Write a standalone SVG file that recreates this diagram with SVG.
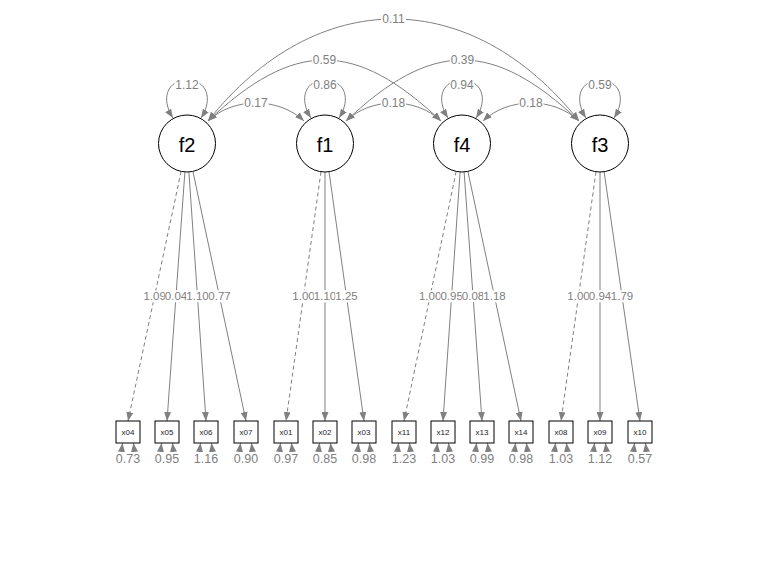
<svg xmlns="http://www.w3.org/2000/svg" width="768" height="576" viewBox="0 0 768 576">
<defs>
<style>
.e{fill:none;stroke:#808080;stroke-width:1}
.d{stroke-dasharray:4,3}
.a{marker-end:url(#ah)}
.b{marker-start:url(#ah);marker-end:url(#ah)}
.lb{fill:#ffffff;stroke:none}
.lt{font-family:"Liberation Sans",Arial,sans-serif;fill:#808080;text-anchor:middle}
.t12{font-size:12px}
.t11{font-size:11.5px}
.t13{font-size:12.5px}
.lat circle{fill:#ffffff;stroke:#000000;stroke-width:1}
.lat text{font-family:"Liberation Sans",Arial,sans-serif;font-size:20px;fill:#000000;text-anchor:middle}
.man rect{fill:#ffffff;stroke:#000000;stroke-width:1}
.man text{font-family:"Liberation Sans",Arial,sans-serif;font-size:8px;fill:#1a1a2a;text-anchor:middle}
</style>
<marker id="ah" viewBox="0 0 9 7" refX="9" refY="3.5" markerWidth="9" markerHeight="7" markerUnits="userSpaceOnUse" orient="auto-start-reverse">
<path d="M0,0 L9,3.5 L0,7 z" fill="#808080"/>
</marker>
</defs>
<rect width="768" height="576" fill="#ffffff"/>

<g id="connectors">
<!-- loadings -->
<line class="e d a" x1="181.1" y1="171.4" x2="128" y2="421"/>
<line class="e a" x1="184.9" y1="171.9" x2="167" y2="421"/>
<line class="e a" x1="188.9" y1="171.9" x2="206" y2="421"/>
<line class="e a" x1="192.9" y1="171.4" x2="246" y2="421"/>
<line class="e d a" x1="321" y1="171.7" x2="286" y2="421"/>
<line class="e a" x1="325" y1="172" x2="325" y2="421"/>
<line class="e a" x1="329" y1="171.7" x2="364" y2="421"/>
<line class="e d a" x1="456.2" y1="171.4" x2="404" y2="421"/>
<line class="e a" x1="460.1" y1="171.9" x2="443" y2="421"/>
<line class="e a" x1="464.1" y1="171.9" x2="482" y2="421"/>
<line class="e a" x1="467.9" y1="171.4" x2="521" y2="421"/>
<line class="e d a" x1="596" y1="171.7" x2="561" y2="421"/>
<line class="e a" x1="600" y1="172" x2="600" y2="421"/>
<line class="e a" x1="604.1" y1="171.7" x2="640" y2="421"/>

<!-- covariances -->
<path class="e b" d="M208,121 C316,-15 471,-15 579,121"/>
<path class="e b" d="M208,121 C294,39.7 355,39.7 441,121"/>
<path class="e b" d="M346,121 C432,39.7 493,39.7 579,121"/>
<path class="e b" d="M208,121 C233,97 279,97 304,121"/>
<path class="e b" d="M346,121 C371,97 416,97 441,121"/>
<path class="e b" d="M483,121 C508,97 554,97 579,121"/>

<!-- latent variances -->
<path class="e b" d="M173,118 C160,98 168,80 187,80 C206,80 214,98 201,118"/>
<path class="e b" d="M311,118 C298,98 306,80 325,80 C344,80 352,98 339,118"/>
<path class="e b" d="M448,118 C435,98 443,80 462,80 C481,80 489,98 476,118"/>
<path class="e b" d="M586,118 C573,98 581,80 600,80 C619,80 627,98 614,118"/>

<!-- residual variances -->
<path class="e b" d="M122.5,443 C120,466 136,466 133.5,443"/>
<path class="e b" d="M161.5,443 C159,466 175,466 172.5,443"/>
<path class="e b" d="M200.5,443 C198,466 214,466 211.5,443"/>
<path class="e b" d="M240.5,443 C238,466 254,466 251.5,443"/>
<path class="e b" d="M280.5,443 C278,466 294,466 291.5,443"/>
<path class="e b" d="M319.5,443 C317,466 333,466 330.5,443"/>
<path class="e b" d="M358.5,443 C356,466 372,466 369.5,443"/>
<path class="e b" d="M398.5,443 C396,466 412,466 409.5,443"/>
<path class="e b" d="M437.5,443 C435,466 451,466 448.5,443"/>
<path class="e b" d="M476.5,443 C474,466 490,466 487.5,443"/>
<path class="e b" d="M515.5,443 C513,466 529,466 526.5,443"/>
<path class="e b" d="M555.5,443 C553,466 569,466 566.5,443"/>
<path class="e b" d="M594.5,443 C592,466 608,466 605.5,443"/>
<path class="e b" d="M634.5,443 C632,466 648,466 645.5,443"/>

<!-- labels: covariances -->
<rect class="lb" x="381" y="13" width="25" height="12"/><text class="lt t12" x="393.5" y="23.2">0.11</text>
<rect class="lb" x="312" y="54" width="25" height="12"/><text class="lt t12" x="324.5" y="64.2">0.59</text>
<rect class="lb" x="450" y="54" width="25" height="12"/><text class="lt t12" x="462.5" y="64.2">0.39</text>
<rect class="lb" x="243.5" y="97" width="25" height="12"/><text class="lt t12" x="256" y="107.2">0.17</text>
<rect class="lb" x="381" y="97" width="25" height="12"/><text class="lt t12" x="393.5" y="107.2">0.18</text>
<rect class="lb" x="518.5" y="97" width="25" height="12"/><text class="lt t12" x="531" y="107.2">0.18</text>
<!-- labels: latent variances -->
<rect class="lb" x="174.5" y="79" width="25" height="12"/><text class="lt t12" x="187" y="89.2">1.12</text>
<rect class="lb" x="312.5" y="79" width="25" height="12"/><text class="lt t12" x="325" y="89.2">0.86</text>
<rect class="lb" x="449.5" y="79" width="25" height="12"/><text class="lt t12" x="462" y="89.2">0.94</text>
<rect class="lb" x="587.5" y="79" width="25" height="12"/><text class="lt t12" x="600" y="89.2">0.59</text>
<!-- labels: loadings -->
<rect class="lb" x="143.4" y="290.3" width="22.4" height="12"/><text class="lt t11" x="154.6" y="300.4">1.09</text>
<rect class="lb" x="164.8" y="290.3" width="22.4" height="12"/><text class="lt t11" x="176" y="300.4">0.04</text>
<rect class="lb" x="186.3" y="290.3" width="22.4" height="12"/><text class="lt t11" x="197.5" y="300.4">1.10</text>
<rect class="lb" x="208.3" y="290.3" width="22.4" height="12"/><text class="lt t11" x="219.5" y="300.4">0.77</text>
<rect class="lb" x="292.3" y="290.3" width="22.4" height="12"/><text class="lt t11" x="303.5" y="300.4">1.00</text>
<rect class="lb" x="313.8" y="290.3" width="22.4" height="12"/><text class="lt t11" x="325" y="300.4">1.10</text>
<rect class="lb" x="335.3" y="290.3" width="22.4" height="12"/><text class="lt t11" x="346.5" y="300.4">1.25</text>
<rect class="lb" x="418.9" y="290.3" width="22.4" height="12"/><text class="lt t11" x="430.1" y="300.4">1.00</text>
<rect class="lb" x="440.4" y="290.3" width="22.4" height="12"/><text class="lt t11" x="451.6" y="300.4">0.95</text>
<rect class="lb" x="461.8" y="290.3" width="22.4" height="12"/><text class="lt t11" x="473" y="300.4">0.08</text>
<rect class="lb" x="483.3" y="290.3" width="22.4" height="12"/><text class="lt t11" x="494.5" y="300.4">1.18</text>
<rect class="lb" x="567.3" y="290.3" width="22.4" height="12"/><text class="lt t11" x="578.5" y="300.4">1.00</text>
<rect class="lb" x="588.8" y="290.3" width="22.4" height="12"/><text class="lt t11" x="600" y="300.4">0.94</text>
<rect class="lb" x="610.8" y="290.3" width="22.4" height="12"/><text class="lt t11" x="622" y="300.4">1.79</text>
<!-- labels: residual variances -->
<rect class="lb" x="114" y="452" width="28" height="15"/><text class="lt t13" x="128" y="463.4">0.73</text>
<rect class="lb" x="153" y="452" width="28" height="15"/><text class="lt t13" x="167" y="463.4">0.95</text>
<rect class="lb" x="192" y="452" width="28" height="15"/><text class="lt t13" x="206" y="463.4">1.16</text>
<rect class="lb" x="232" y="452" width="28" height="15"/><text class="lt t13" x="246" y="463.4">0.90</text>
<rect class="lb" x="272" y="452" width="28" height="15"/><text class="lt t13" x="286" y="463.4">0.97</text>
<rect class="lb" x="311" y="452" width="28" height="15"/><text class="lt t13" x="325" y="463.4">0.85</text>
<rect class="lb" x="350" y="452" width="28" height="15"/><text class="lt t13" x="364" y="463.4">0.98</text>
<rect class="lb" x="390" y="452" width="28" height="15"/><text class="lt t13" x="404" y="463.4">1.23</text>
<rect class="lb" x="429" y="452" width="28" height="15"/><text class="lt t13" x="443" y="463.4">1.03</text>
<rect class="lb" x="468" y="452" width="28" height="15"/><text class="lt t13" x="482" y="463.4">0.99</text>
<rect class="lb" x="507" y="452" width="28" height="15"/><text class="lt t13" x="521" y="463.4">0.98</text>
<rect class="lb" x="547" y="452" width="28" height="15"/><text class="lt t13" x="561" y="463.4">1.03</text>
<rect class="lb" x="586" y="452" width="28" height="15"/><text class="lt t13" x="600" y="463.4">1.12</text>
<rect class="lb" x="626" y="452" width="28" height="15"/><text class="lt t13" x="640" y="463.4">0.57</text>
</g>

<g id="f2" class="lat"><circle cx="187" cy="143.5" r="28.5"/><text x="187" y="152">f2</text></g>
<g id="f1" class="lat"><circle cx="325" cy="143.5" r="28.5"/><text x="325" y="152">f1</text></g>
<g id="f4" class="lat"><circle cx="462" cy="143.5" r="28.5"/><text x="462" y="152">f4</text></g>
<g id="f3" class="lat"><circle cx="600" cy="143.5" r="28.5"/><text x="600" y="152">f3</text></g>

<g id="x04" class="man"><rect x="116" y="421" width="24" height="22"/><text x="128" y="435">x04</text></g>
<g id="x05" class="man"><rect x="155" y="421" width="24" height="22"/><text x="167" y="435">x05</text></g>
<g id="x06" class="man"><rect x="194" y="421" width="24" height="22"/><text x="206" y="435">x06</text></g>
<g id="x07" class="man"><rect x="234" y="421" width="24" height="22"/><text x="246" y="435">x07</text></g>
<g id="x01" class="man"><rect x="274" y="421" width="24" height="22"/><text x="286" y="435">x01</text></g>
<g id="x02" class="man"><rect x="313" y="421" width="24" height="22"/><text x="325" y="435">x02</text></g>
<g id="x03" class="man"><rect x="352" y="421" width="24" height="22"/><text x="364" y="435">x03</text></g>
<g id="x11" class="man"><rect x="392" y="421" width="24" height="22"/><text x="404" y="435">x11</text></g>
<g id="x12" class="man"><rect x="431" y="421" width="24" height="22"/><text x="443" y="435">x12</text></g>
<g id="x13" class="man"><rect x="470" y="421" width="24" height="22"/><text x="482" y="435">x13</text></g>
<g id="x14" class="man"><rect x="509" y="421" width="24" height="22"/><text x="521" y="435">x14</text></g>
<g id="x08" class="man"><rect x="549" y="421" width="24" height="22"/><text x="561" y="435">x08</text></g>
<g id="x09" class="man"><rect x="588" y="421" width="24" height="22"/><text x="600" y="435">x09</text></g>
<g id="x10" class="man"><rect x="628" y="421" width="24" height="22"/><text x="640" y="435">x10</text></g>
</svg>
